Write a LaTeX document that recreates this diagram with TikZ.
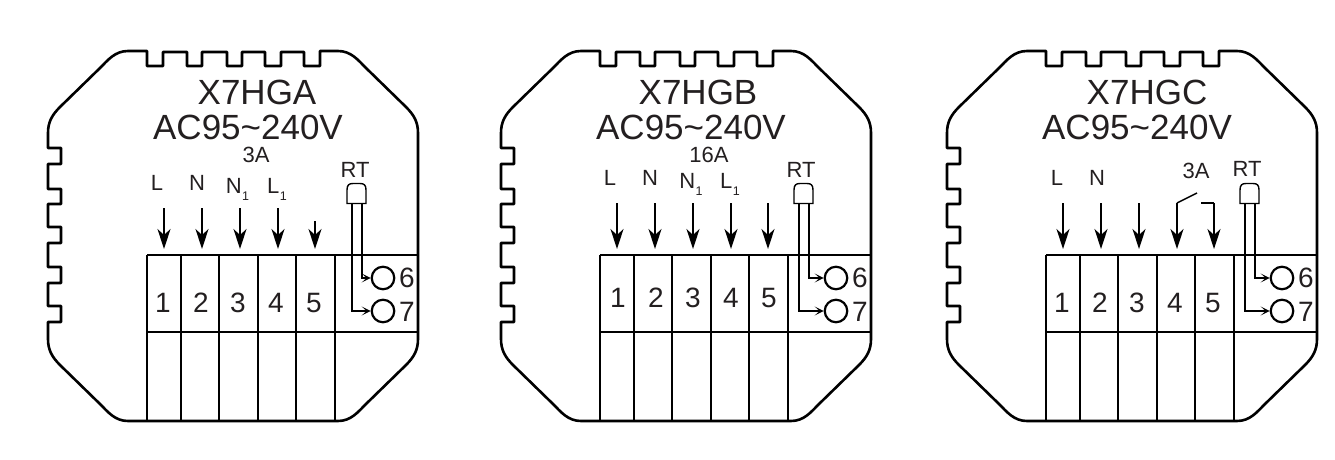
\documentclass[tikz,border=0pt]{standalone}
\usepackage{fontspec}
\setmainfont{Liberation Sans}
\usetikzlibrary{arrows.meta}
\definecolor{ink}{HTML}{231F20}
\newcommand{\lowone}{\hspace{0.5pt}\raisebox{-7pt}{\fontsize{12.5}{12.5}\selectfont 1}}
\tikzset{
	body/.style={line width=2.6pt, line join=round},
	feed/.style={line width=1.4pt, -{Stealth[length=20pt,width=13pt,inset=6pt]}},
	lead/.style={line width=1.2pt, -{Stealth[length=9pt,width=9pt,inset=5pt]}},
	term/.style={circle, draw, line width=2.2pt, minimum size=22.5pt, inner sep=0pt},
	big/.style={anchor=base, inner sep=0pt, text=ink, font=\fontsize{35}{35}\selectfont},
	mid/.style={anchor=base, inner sep=0pt, text=ink, font=\fontsize{22}{22}\selectfont},
	num/.style={anchor=base, inner sep=0pt, text=ink, font=\fontsize{28}{28}\selectfont},
}
\begin{document}
\begin{tikzpicture}[x=1pt, y=-1pt]
\useasboundingbox (0,0) rectangle (1335,460);

\foreach \p/\dx/\sx/\nx/\ny/\ay/\by in {a/0/0/0/312/208/221, b/453/-6/2/307/203/203, c/899/-6/0/312/203/203}{
	\begin{scope}[shift={(\dx,0)}]
		\draw[body] (48,133) .. controls (48,122) and (52,115) .. (60,107) -- (100,68)
			.. controls (108,60) and (115,51) .. (128,51) -- (147,51)
			-- (147,66) -- (163,66) -- (163,52) -- (187,52) -- (187,66) -- (202,66) -- (202,52)
			-- (227,52) -- (227,66) -- (242,66) -- (242,52) -- (265,52) -- (265,66) -- (281,66)
			-- (281,52) -- (304,52) -- (304,66) -- (320,66) -- (320,51) -- (338,51)
			.. controls (351,51) and (358,60) .. (366,68) -- (406,107)
			.. controls (414,115) and (418,122) .. (418,133) -- (418,339)
			.. controls (418,350) and (414,357) .. (406,365) -- (366,404)
			.. controls (358,412) and (351,421) .. (338,421) -- (128,421)
			.. controls (115,421) and (108,412) .. (100,404) -- (60,365)
			.. controls (52,357) and (48,350) .. (48,339) -- (48,322)
			-- (61,322) -- (61,306) -- (48,306) -- (48,283) -- (61,283) -- (61,267) -- (48,267)
			-- (48,243) -- (61,243) -- (61,227) -- (48,227) -- (48,204) -- (61,204) -- (61,189)
			-- (48,189) -- (48,164) -- (61,164) -- (61,148) -- (48,148) -- cycle;

		\draw[body] (147,255) -- (418,255);
		\draw[body] (147,332) -- (418,332);
		\foreach \x in {147,181,219,258,296,335}{
			\draw[body] (\x,255) -- (\x,421);
		}

		\foreach \k/\x in {1/163,2/201,3/238,4/276,5/314}{
			\node[num] (\p d\k) at (\x+\nx,\ny) {\k};
		}

		\foreach \k/\x/\ty in {1/164/\ay,2/202/\ay,3/240/\ay,4/278/\ay,5/315/\by}{
			\coordinate (\p t\k) at (\x,\ty);
			\coordinate (\p b\k) at (\x,249);
			\draw[feed] (\p t\k) -- (\p b\k);
		}

		\node[term] (\p six) at (383,278) {};
		\node[term] (\p seven) at (383,311) {};
		\node[num] (\p sixt) at (407,287) {6};
		\node[num] (\p sevent) at (407,321) {7};

		\begin{scope}[shift={(\sx,0)}]
			\draw[line width=1.4pt] (347,203.5) -- (347,190) .. controls (347,185) and (349,183.5) .. (353,183.5)
				-- (360,183.5) .. controls (364,183.5) and (366,185) .. (366,190) -- (366,203.5) -- cycle;
			\coordinate (\p rtl) at (352,203.5);
			\coordinate (\p rtr) at (362,203.5);
		\end{scope}
		\draw[lead] (\p rtr) |- (\p six);
		\draw[lead] (\p rtl) |- (\p seven);
	\end{scope}
}

\coordinate (blade) at (1197,193);
\coordinate (contact) at (1201,203);
\draw[line width=1.4pt] (ct4) -- (blade);
\draw[line width=1.4pt] (contact) -- (ct5);

\foreach \n/\x/\y/\t in {
	xa/257/104/X7HGA,vola/248/139/AC95\textasciitilde 240V%
	,xb/698/104/X7HGB,volb/691/139/AC95\textasciitilde 240V%
	,xc/1147/104/X7HGC,volc/1137/139/AC95\textasciitilde 240V%
}{
	\node[big] (\n) at (\x,\y) {\t};
}

\foreach \n/\x/\y/\t in {
	ampa/256/162/3A,rta/355/177/RT,la/157/190/L,na/197/190/N%
	,noa/237.5/193/N\lowone,loa/277/193/L\lowone%
	,ampb/709/162/16A,rtb/801/177/RT,lb/610/185/L,nb/650/185/N%
	,nob/691/188/N\lowone,lob/730/188/L\lowone%
	,ampc/1196/178/3A,rtc/1247/176/RT,lc/1057/185/L,nc/1097/185/N%
}{
	\node[mid] (\n) at (\x,\y) {\t};
}
\end{tikzpicture}
\end{document}
